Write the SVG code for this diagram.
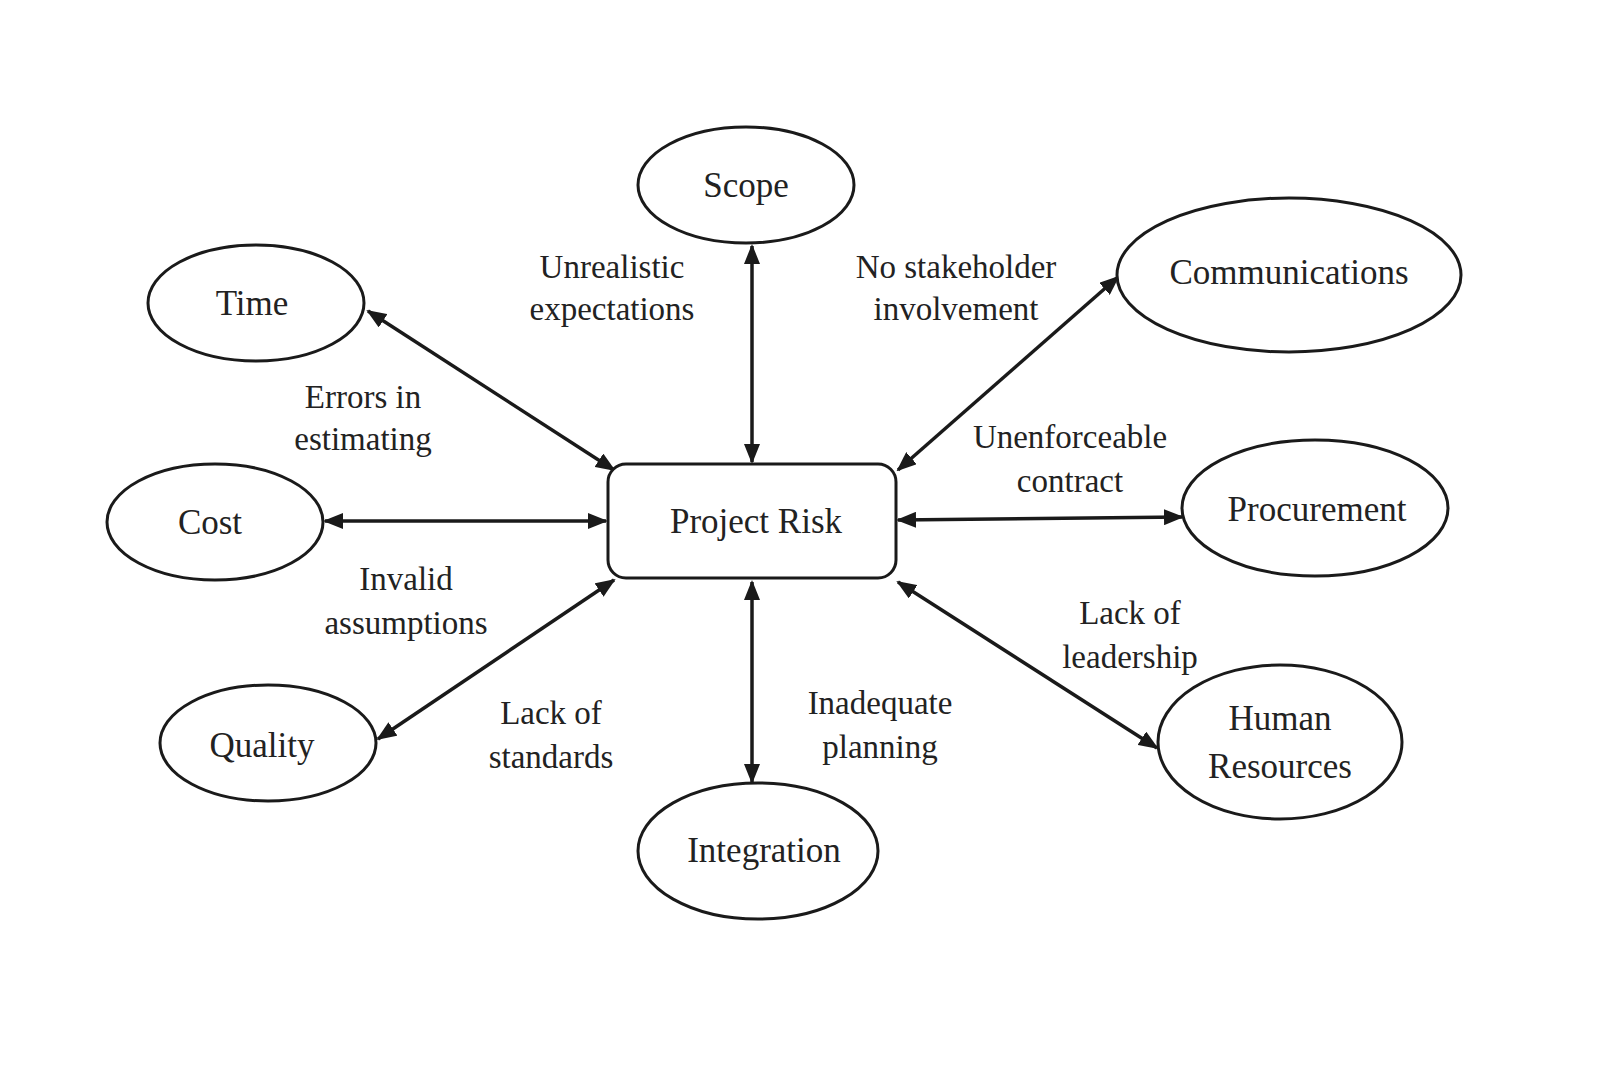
<svg xmlns="http://www.w3.org/2000/svg" width="1600" height="1069" viewBox="0 0 1600 1069">
<defs>
<marker id="ah" viewBox="0 0 10 10" refX="9" refY="5" markerWidth="20" markerHeight="16" markerUnits="userSpaceOnUse" orient="auto-start-reverse" preserveAspectRatio="none"><path d="M0,0 L10,5 L0,10 z" fill="#1a1a1a"/></marker>
<style>
.n{fill:#fff;stroke:#1a1a1a;stroke-width:3}
.t{font-family:"Liberation Serif","Times New Roman","DejaVu Serif",serif;font-size:35px;fill:#222;text-anchor:middle}
.l{font-family:"Liberation Serif","Times New Roman","DejaVu Serif",serif;font-size:33px;fill:#222;text-anchor:middle}
.c{stroke:#1a1a1a;stroke-width:3.5;fill:none;marker-start:url(#ah);marker-end:url(#ah)}
</style>
</defs>
<rect width="1600" height="1069" fill="#fff"/>
<g id="connectors">
<line class="c" x1="368" y1="311" x2="614" y2="470"/>
<line class="c" x1="752" y1="246" x2="752" y2="462"/>
<line class="c" x1="1118" y1="277" x2="898" y2="470"/>
<line class="c" x1="325" y1="521" x2="606" y2="521"/>
<line class="c" x1="898" y1="520" x2="1182" y2="517"/>
<line class="c" x1="378" y1="739" x2="614" y2="580"/>
<line class="c" x1="752" y1="582" x2="752" y2="782"/>
<line class="c" x1="898" y1="582" x2="1157" y2="748"/>
</g>
<g id="labels">
<text class="l" x="612" y="278">Unrealistic</text><text class="l" x="612" y="320">expectations</text>
<text class="l" x="956" y="278">No stakeholder</text><text class="l" x="956" y="320">involvement</text>
<text class="l" x="363" y="408">Errors in</text><text class="l" x="363" y="450">estimating</text>
<text class="l" x="1070" y="448">Unenforceable</text><text class="l" x="1070" y="492">contract</text>
<text class="l" x="406" y="590">Invalid</text><text class="l" x="406" y="634">assumptions</text>
<text class="l" x="1130" y="624">Lack of</text><text class="l" x="1130" y="668">leadership</text>
<text class="l" x="551" y="724">Lack of</text><text class="l" x="551" y="768">standards</text>
<text class="l" x="880" y="714">Inadequate</text><text class="l" x="880" y="758">planning</text>
</g>
<g id="risk"><rect class="n" x="608" y="464" width="288" height="114" rx="18"/><text class="t" x="756" y="533">Project Risk</text></g>
<g id="scope"><ellipse class="n" cx="746" cy="185" rx="108" ry="58"/><text class="t" x="746" y="197">Scope</text></g>
<g id="time"><ellipse class="n" cx="256" cy="303" rx="108" ry="58"/><text class="t" x="252" y="315">Time</text></g>
<g id="communications"><ellipse class="n" cx="1289" cy="275" rx="172" ry="77"/><text class="t" x="1289" y="284">Communications</text></g>
<g id="cost"><ellipse class="n" cx="215" cy="522" rx="108" ry="58"/><text class="t" x="210" y="534">Cost</text></g>
<g id="procurement"><ellipse class="n" cx="1315" cy="508" rx="133" ry="68"/><text class="t" x="1317" y="521">Procurement</text></g>
<g id="quality"><ellipse class="n" cx="268" cy="743" rx="108" ry="58"/><text class="t" x="262" y="757">Quality</text></g>
<g id="hr"><ellipse class="n" cx="1280" cy="742" rx="122" ry="77"/><text class="t" x="1280" y="730">Human</text><text class="t" x="1280" y="778">Resources</text></g>
<g id="integration"><ellipse class="n" cx="758" cy="851" rx="120" ry="68"/><text class="t" x="764" y="862">Integration</text></g>
</svg>
